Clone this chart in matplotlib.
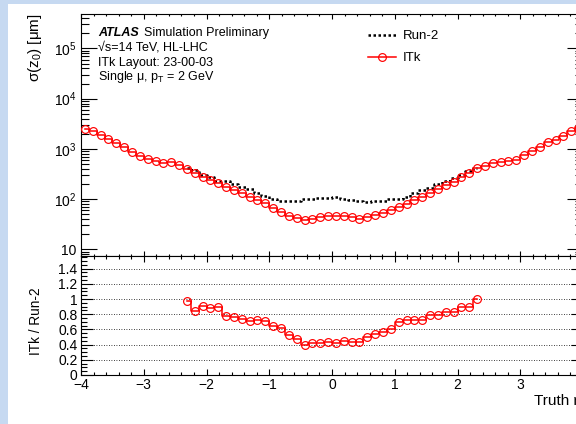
import numpy as np
import matplotlib
matplotlib.use('Agg')
import matplotlib.pyplot as plt
from matplotlib.ticker import MultipleLocator, LogLocator, FuncFormatter, NullFormatter
from matplotlib.lines import Line2D
from matplotlib.patches import Rectangle

plt.rcParams['font.family'] = ['Liberation Sans', 'DejaVu Sans']
plt.rcParams['mathtext.fontset'] = 'custom'
plt.rcParams['mathtext.rm'] = 'Liberation Sans'
plt.rcParams['mathtext.it'] = 'Liberation Sans:italic'
plt.rcParams['mathtext.bf'] = 'Liberation Sans:bold'

# ---------------- data ----------------
eta_edges = np.linspace(-4.0, 4.0, 65)          # 64 bins of width 0.125
eta_centers = 0.5 * (eta_edges[:-1] + eta_edges[1:])

itk_sigma_z0 = [2510, 2220, 1905, 1585, 1300, 1080, 885, 725, 621, 566,
                533, 541, 479, 398, 326, 280, 240, 206, 176, 151,
                130, 111, 95, 82, 65, 56, 47, 42.5, 39, 41,
                44, 46, 46, 46, 43, 40, 44, 48, 52, 60,
                70, 78, 95, 111, 134, 158, 188, 222, 271, 326,
                411, 457, 517, 541, 584, 603, 759, 912, 1113, 1339,
                1468, 1820, 2222, 2750]

ratio_first_bin = 13   # ratio (and Run-2) defined for bins 13..50 (|eta| < 2.375)
ratio_itk_run2 = [0.978, 0.842, 0.908, 0.886, 0.899, 0.776, 0.768, 0.737, 0.715, 0.724,
                  0.711, 0.645, 0.620, 0.522, 0.471, 0.395, 0.417, 0.417, 0.439, 0.425,
                  0.452, 0.439, 0.434, 0.504, 0.535, 0.570, 0.601, 0.702, 0.724, 0.724,
                  0.724, 0.789, 0.789, 0.833, 0.833, 0.899, 0.899, 0.996]

itk = np.array(itk_sigma_z0, dtype=float)
ratio = np.array(ratio_itk_run2)
sl = slice(ratio_first_bin, ratio_first_bin + len(ratio))
eta_r = eta_centers[sl]
run2_sigma_z0 = itk[sl] / ratio

# ---------------- figure ----------------
W, H = 576, 424
fig = plt.figure(figsize=(W / 100, H / 100), dpi=100)
fig.patch.set_facecolor('#c6d9f1')
fig.add_artist(Rectangle((8 / W, 0), 1, 1 - 4 / H, transform=fig.transFigure,
                         facecolor='white', edgecolor='none', zorder=-10))

def fy(py):
    return 1 - py / H

x0, x1 = 81, 583
ax1 = fig.add_axes([x0 / W, fy(256), (x1 - x0) / W, (256 - 14) / H])
ax2 = fig.add_axes([x0 / W, fy(375), (x1 - x0) / W, (375 - 256) / H])

pt = 72 / 100.0  # points per pixel
dot = (0, (1, 1))

# top panel
ax1.plot(eta_r, run2_sigma_z0, color='black', ls=dot, lw=1.8, drawstyle='steps-mid',
         dash_capstyle='butt', zorder=3)
ax1.plot(eta_centers, itk, color='red', lw=1.1, drawstyle='steps-mid', marker='o',
         mfc='none', mec='red', ms=5.6, mew=0.85, zorder=4)
ax1.set_yscale('log')
ax1.set_xlim(-4, 4)
ax1.set_ylim(7.35, 4.85e5)
ax1.xaxis.set_major_locator(MultipleLocator(1))
ax1.xaxis.set_minor_locator(MultipleLocator(0.2))
ax1.xaxis.set_major_formatter(NullFormatter())
ax1.yaxis.set_major_locator(LogLocator(base=10, numticks=20))
ax1.yaxis.set_minor_locator(LogLocator(base=10, subs=np.arange(2, 10), numticks=20))
ax1.yaxis.set_minor_formatter(NullFormatter())

def logfmt(v, pos):
    n = int(round(np.log10(v)))
    if n == 1:
        return '10'
    return r'$10^{%d}$' % n
ax1.yaxis.set_major_formatter(FuncFormatter(logfmt))

ax1.tick_params(which='both', direction='in', top=True, right=True, width=0.8, labelsize=10)
ax1.tick_params(axis='x', which='major', length=5 * pt)
ax1.tick_params(axis='x', which='minor', length=2.5 * pt)
ax1.tick_params(axis='y', which='major', length=16 * pt, pad=3)
ax1.tick_params(axis='y', which='minor', length=8 * pt)

# ratio panel
ax2.plot(eta_r, ratio, color='red', lw=1.1, drawstyle='steps-mid', marker='o',
         mfc='none', mec='red', ms=5.6, mew=0.85, zorder=4)
ax2.set_xlim(-4, 4)
ax2.set_ylim(0, 1.566)
ax2.xaxis.set_major_locator(MultipleLocator(1))
ax2.xaxis.set_minor_locator(MultipleLocator(0.2))
ax2.yaxis.set_major_locator(MultipleLocator(0.2))
ax2.yaxis.set_minor_locator(MultipleLocator(0.05))
ax2.yaxis.set_major_formatter(FuncFormatter(lambda v, p: '%g' % round(v, 2)))
ax2.yaxis.grid(True, which='major', color='black', ls=(0, (1, 2)), lw=0.6)
ax2.tick_params(which='both', direction='in', top=True, right=True, width=0.8, labelsize=10)
ax2.tick_params(axis='x', which='major', length=6 * pt, pad=2.5)
ax2.tick_params(axis='x', which='minor', length=3 * pt)
ax2.tick_params(axis='y', which='major', length=12 * pt, pad=2.5)
ax2.tick_params(axis='y', which='minor', length=6 * pt)

for ax in (ax1, ax2):
    for s in ax.spines.values():
        s.set_linewidth(0.8)

# labels
fig.text(35 / W, fy(13), 'σ(z$_0$) [μm]', rotation=90, ha='center', va='top', fontsize=11)
fig.text(36 / W, fy(321), 'ITk / Run-2', rotation=90, ha='center', va='center', fontsize=9.8)
fig.text(534 / W, fy(405), 'Truth η', ha='left', va='baseline', fontsize=11)

# ATLAS label
fig.text(98 / W, fy(36), 'ATLAS', fontsize=9, fontweight='bold', fontstyle='italic', va='baseline')
fig.text(144 / W, fy(36), 'Simulation Preliminary', fontsize=9, va='baseline')
fig.text(98 / W, fy(51), '√s=14 TeV, HL-LHC', fontsize=9, va='baseline')
fig.text(98 / W, fy(66), 'ITk Layout: 23-00-03', fontsize=9, va='baseline')
fig.text(98 / W, fy(80), 'Single μ, p$_\\mathrm{T}$ = 2 GeV', fontsize=9, va='baseline')

# legend
handles = [Line2D([], [], color='black', ls=dot, lw=1.8, dash_capstyle='butt'),
           Line2D([], [], color='red', lw=1.1, marker='o', mfc='none', mec='red', ms=5.6, mew=0.85)]
ax1.legend(handles, ['Run-2', 'ITk'], loc='upper left', bbox_to_anchor=(368 / W, fy(30)),
           bbox_transform=fig.transFigure, frameon=False, fontsize=9.5, handlelength=2.15,
           handletextpad=0.5, labelspacing=0.75, borderpad=0, borderaxespad=0)

fig.savefig('out.png', dpi=100, facecolor=fig.get_facecolor())
